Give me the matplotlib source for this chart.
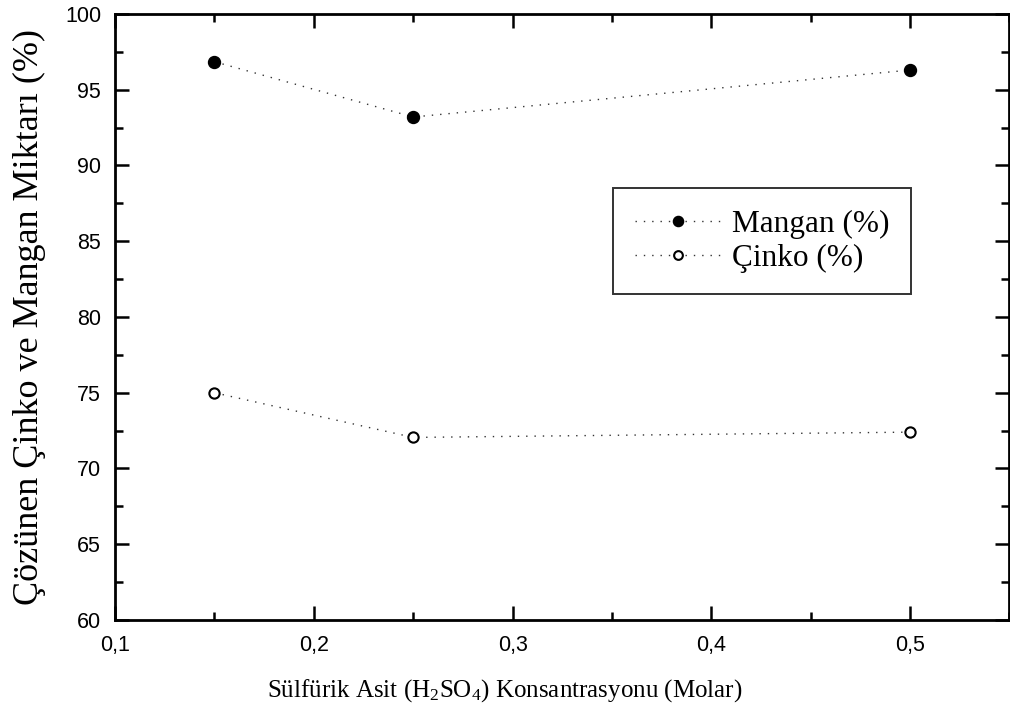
import matplotlib.pyplot as plt
from matplotlib.ticker import MultipleLocator, FuncFormatter

konsantrasyon = [0.15, 0.25, 0.5]
mangan = [96.85, 93.2, 96.3]
cinko = [75.0, 72.05, 72.4]

plt.rcParams['mathtext.fontset'] = 'custom'
plt.rcParams['mathtext.rm'] = 'Liberation Serif'
plt.rcParams['mathtext.it'] = 'Liberation Serif:italic'

fig = plt.figure(figsize=(10.1, 7.17), dpi=100)
ax = fig.add_axes([0.1139, 0.1353, 0.8856, 0.8452])

ax.plot(konsantrasyon, mangan, linestyle=(0, (1, 5)), color='#333333', linewidth=1.0,
        marker='o', markersize=8.6, markerfacecolor='black', markeredgecolor='black',
        label='Mangan (%)')
ax.plot(konsantrasyon, cinko, linestyle=(0, (1, 5)), color='#333333', linewidth=1.0,
        marker='o', markersize=7.4, markerfacecolor='white', markeredgecolor='black',
        markeredgewidth=1.5, label='Çinko (%)')

ax.set_xlim(0.1, 0.55)
ax.set_ylim(60, 100)
ax.xaxis.set_major_locator(MultipleLocator(0.1))
ax.xaxis.set_minor_locator(MultipleLocator(0.05))
ax.yaxis.set_major_locator(MultipleLocator(5))
ax.yaxis.set_minor_locator(MultipleLocator(2.5))
ax.xaxis.set_major_formatter(FuncFormatter(lambda v, p: ('%.1f' % v).replace('.', ',')))
ax.yaxis.set_major_formatter(FuncFormatter(lambda v, p: '%d' % v))

ax.tick_params(which='both', direction='in', top=True, right=True, width=1.8,
               labelsize=15.5)
ax.tick_params(axis='x', which='major', pad=11)
ax.tick_params(axis='y', which='major', pad=10)
ax.tick_params(which='major', length=10)
ax.tick_params(which='minor', length=6)
for lbl in ax.get_xticklabels() + ax.get_yticklabels():
    lbl.set_family('Liberation Sans')
for s in ax.spines.values():
    s.set_linewidth(2.0)

ax.set_xlabel(r'Sülfürik Asit (H$_\mathrm{2}$SO$_\mathrm{4}$) Konsantrasyonu (Molar)',
              family='Liberation Serif', fontsize=18)
ax.xaxis.set_label_coords(0.436, -0.095)
ax.set_ylabel('Çözünen Çinko ve Mangan Miktarı (%)',
              family='Liberation Serif', fontsize=26, labelpad=14)

leg = ax.legend(loc='upper left', bbox_to_anchor=(0.557, 0.713), frameon=True,
                fancybox=False, edgecolor='black', handlelength=2.75, markerscale=0.85,
                prop={'family': 'Liberation Serif', 'size': 22.5},
                borderpad=0.7, labelspacing=0.15, handletextpad=0.35, borderaxespad=0)
leg.get_frame().set_linewidth(1.4)

fig.savefig('out.png', dpi=100)
